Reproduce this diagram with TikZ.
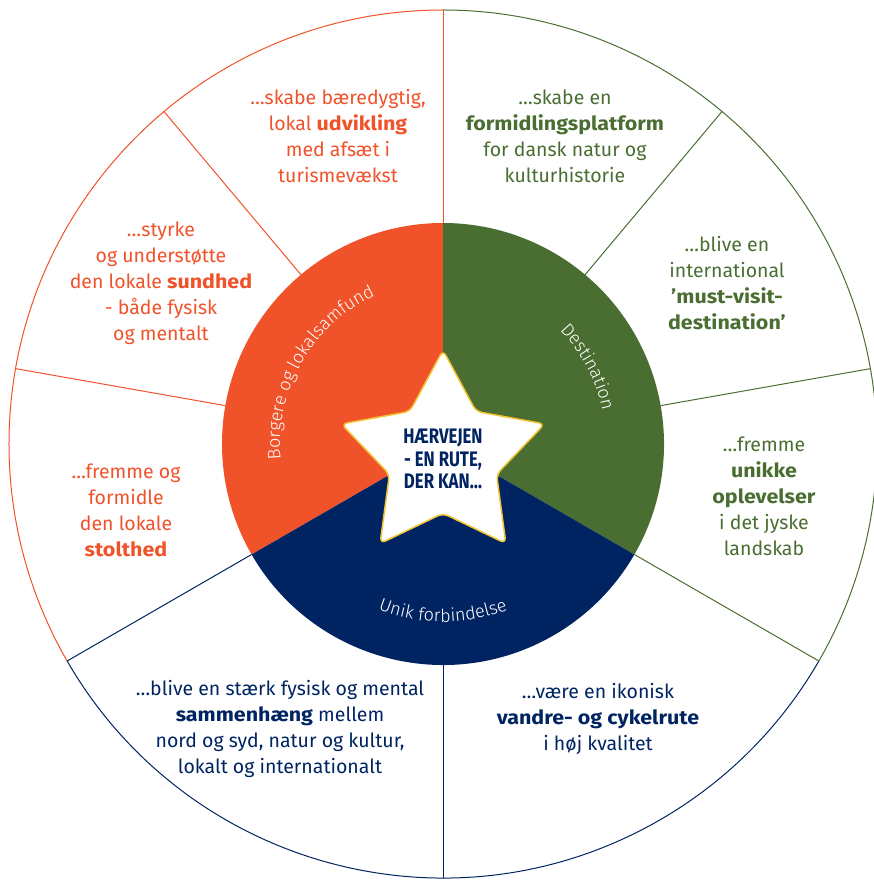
\documentclass[tikz,border=0pt]{standalone}
\usepackage{fontspec}
\setmainfont{Fira Sans}[BoldFeatures={FakeStretch=1.1}]
\newfontfamily\starfont{Fira Sans}[FakeStretch=0.8]
\newfontfamily\ringfam{Fira Sans}[UprightFont=* Light]
\usetikzlibrary{shapes.geometric,decorations.text}

\definecolor{borgorange}{HTML}{F0522A}
\definecolor{destgreen}{HTML}{4A6E32}
\definecolor{unikblue}{HTML}{002462}
\definecolor{stargold}{HTML}{F2C230}

\newcommand\ringfont{\ringfam\fontsize{18}{18}\selectfont}

\tikzset{
  goal/.style={align=center, font=\fontsize{19.5}{26}\selectfont},
  rim/.style={line width=1pt},
  ringtext/.style={decorate, decoration={text along path, text align=center, text={|\color{white}\ringfont|#1}}}
}

\begin{document}
\begin{tikzpicture}[x=1pt,y=1pt]
\useasboundingbox (-443,-436) rectangle (431,444);

% inner ring, three sectors
\fill[borgorange] (0,0) -- (90:221) arc[start angle=90, end angle=210, radius=221] -- cycle;
\fill[destgreen] (0,0) -- (-30:221) arc[start angle=-30, end angle=90, radius=221] -- cycle;
\fill[unikblue] (0,0) -- (210:221) arc[start angle=210, end angle=330, radius=221] -- cycle;

% outer rim
\draw[rim, borgorange] (90:434) arc[start angle=90, end angle=210, radius=434];
\draw[rim, destgreen] (-30:434) arc[start angle=-30, end angle=90, radius=434];
\draw[rim, unikblue] (210:434) arc[start angle=210, end angle=330, radius=434];

\coordinate (i90) at (90:221);   \coordinate (o90) at (90:434);
\coordinate (i130) at (130:221); \coordinate (o130) at (130:434);
\coordinate (i170) at (170:221); \coordinate (o170) at (170:434);
\coordinate (i210) at (210:221); \coordinate (o210) at (210:434);
\coordinate (i270) at (270:221); \coordinate (o270) at (270:434);
\coordinate (i330) at (330:221); \coordinate (o330) at (330:434);
\coordinate (i10) at (10:221);   \coordinate (o10) at (10:434);
\coordinate (i50) at (50:221);   \coordinate (o50) at (50:434);

\path[rim]
(i90) edge[borgorange] (o90)
(i130) edge[borgorange] (o130)
(i170) edge[borgorange] (o170)
(i210) edge[unikblue] (o210)
(i270) edge[unikblue] (o270)
(i330) edge[destgreen] (o330)
(i10) edge[destgreen] (o10)
(i50) edge[destgreen] (o50)
; %end path

% ring labels
\path[ringtext={Borgere og lokalsamfund}] (200:163) arc[start angle=200, end angle=100, radius=163];
\path[ringtext={Destination}] (78:163) arc[start angle=78, end angle=-22, radius=163];
\path[ringtext={Unik forbindelse}] (220:178) arc[start angle=220, end angle=320, radius=178];

% star in the middle
\node[star, star points=5, star point ratio=1.9, minimum size=214pt, inner sep=0pt,
      fill=white, draw=stargold, line width=1.5pt, rounded corners=6pt] (hub) at (0,-13) {};
\node[font=\starfont\bfseries\fontsize{21}{22.5}\selectfont, text=unikblue, align=center] (hubtext) at (0,-15)
  {HÆRVEJEN\\- EN RUTE,\\DER KAN…};

% the eight aims
\node[goal, text=borgorange] (udvikling) at (-105,308)
  {…skabe bæredygtig,\\lokal \textbf{udvikling}\\med afsæt i\\turismevækst};
\node[goal, text=destgreen] (platform) at (122,308)
  {…skabe en\\\textbf{formidlingsplatform}\\for dansk natur og\\kulturhistorie};
\node[goal, text=destgreen] (mustvisit) at (284,161)
  {…blive en\\international\\\textbf{’must-visit-}\\\textbf{destination’}};
\node[goal, text=destgreen] (oplevelser) at (321,-52)
  {…fremme\\\textbf{unikke}\\\textbf{oplevelser}\\i det jyske\\landskab};
\node[goal, text=unikblue] (cykelrute) at (155,-275)
  {…være en ikonisk\\\textbf{vandre- og cykelrute}\\i høj kvalitet};
\node[goal, text=unikblue] (sammenhaeng) at (-163,-285)
  {…blive en stærk fysisk og mental\\\textbf{sammenhæng} mellem\\nord og syd, natur og kultur,\\lokalt og internationalt};
\node[goal, text=borgorange] (stolthed) at (-317,-66)
  {…fremme og\\formidle\\den lokale\\\textbf{stolthed}};
\node[goal, text=borgorange] (sundhed) at (-282,161)
  {…styrke\\og understøtte\\den lokale \textbf{sundhed}\\- både fysisk\\og mentalt};
\end{tikzpicture}
\end{document}
